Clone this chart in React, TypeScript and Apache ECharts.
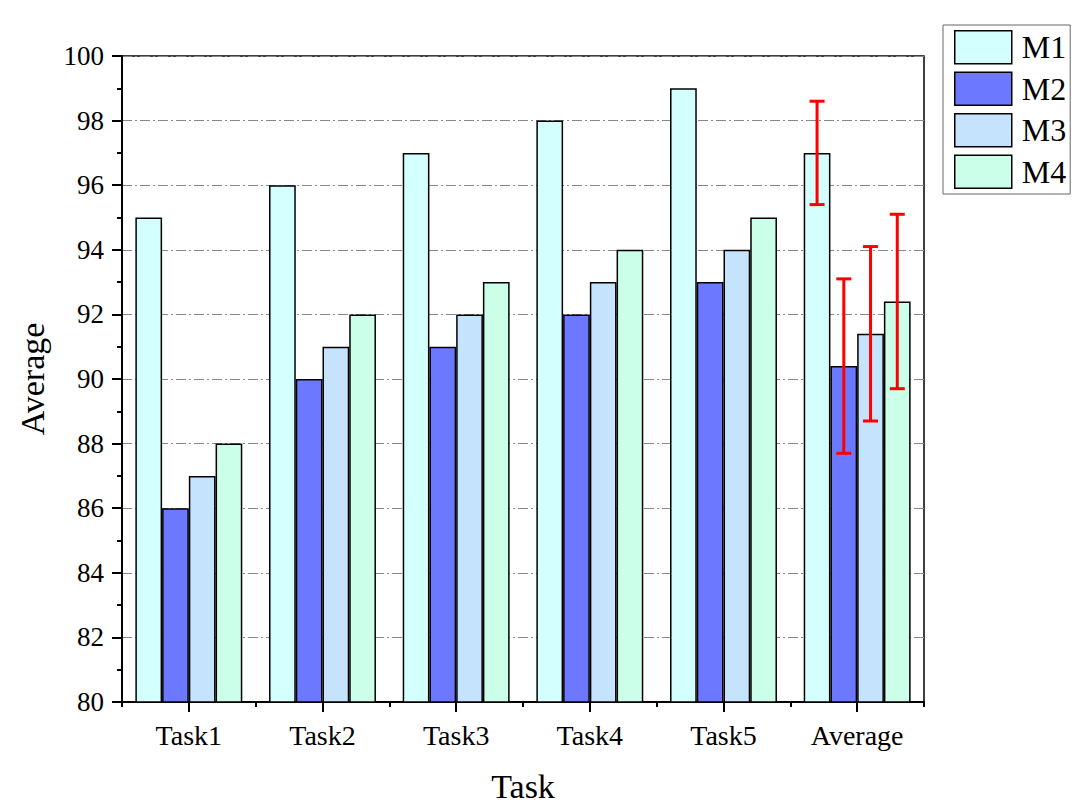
import React, { useEffect, useRef } from "react";
import * as echarts from "echarts";

const categories = ["Task1", "Task2", "Task3", "Task4", "Task5", "Average"];
const seriesNames = ["M1", "M2", "M3", "M4"];
const m1 = [95, 96, 97, 98, 99, 97];
const m2 = [86, 90, 91, 92, 93, 90.4];
const m3 = [87, 91, 92, 93, 94, 91.4];
const m4 = [88, 92, 93, 94, 95, 92.4];
const averageErrors = [1.6, 2.7, 2.7, 2.7];
const colors = ["#D4FFFF", "#6B78FF", "#C5E3FD", "#CBFFEA"];

const FONT = "'Liberation Serif', 'Times New Roman', serif";

export default function App() {
  const ref = useRef<HTMLDivElement>(null);
  useEffect(() => {
    const chart = echarts.init(ref.current!, null, { renderer: "svg" });
    const values = [m1, m2, m3, m4];
    const avgIndex = categories.length - 1;
    const errData = values.map((arr, i) => [
      avgIndex,
      arr[avgIndex] - averageErrors[i],
      arr[avgIndex] + averageErrors[i],
      i,
    ]);
    const option: any = {
      animation: false,
      backgroundColor: "#fff",
      textStyle: { fontFamily: FONT },
      grid: {
        left: 122,
        top: 56,
        right: 156,
        bottom: 101,
        outerBoundsMode: "none",
        containLabel: false,
        show: true,
        borderColor: "#000",
        borderWidth: 1.5,
        backgroundColor: "transparent",
      },
      legend: {
        orient: "vertical",
        left: 943,
        top: 25,
        itemWidth: 57,
        itemHeight: 33,
        itemGap: 7,
        icon: "rect",
        padding: [5, 4, 5, 11],
        borderColor: "#666",
        borderWidth: 1,
        data: seriesNames,
        textStyle: { fontFamily: FONT, fontSize: 32, color: "#000", padding: [0, 0, 0, 5] },
        itemStyle: { borderColor: "#000", borderWidth: 1.5 },
      },
      xAxis: [
        {
          type: "category",
          data: categories,
          name: "Task",
          nameLocation: "middle",
          nameGap: 67,
          nameTextStyle: { fontFamily: FONT, fontSize: 34, color: "#000" },
          axisLine: { show: true, lineStyle: { color: "#000", width: 2 } },
          axisTick: {
            show: true,
            alignWithLabel: true,
            length: 10,
            lineStyle: { color: "#000", width: 2 },
          },
          axisLabel: {
            margin: 19,
            fontFamily: FONT,
            fontSize: 28,
            color: "#000",
          },
          splitLine: { show: false },
        },
        {
          type: "category",
          data: categories,
          position: "bottom",
          axisLine: { show: false },
          axisTick: {
            show: true,
            length: 5,
            lineStyle: { color: "#000", width: 2 },
          },
          axisLabel: { show: false },
          splitLine: { show: false },
        },
      ],
      yAxis: {
        type: "value",
        min: 80,
        max: 100,
        interval: 2,
        name: "Average",
        nameLocation: "middle",
        nameGap: 73,
        nameTextStyle: { fontFamily: FONT, fontSize: 34, color: "#000" },
        axisLine: { show: true, lineStyle: { color: "#000", width: 2 } },
        axisTick: { show: true, length: 10, lineStyle: { color: "#000", width: 2 } },
        minorTick: {
          show: true,
          splitNumber: 2,
          length: 5,
          lineStyle: { color: "#000", width: 2 },
        },
        axisLabel: {
          margin: 18,
          fontFamily: FONT,
          fontSize: 27,
          color: "#000",
        },
        splitLine: {
          show: true,
          lineStyle: { color: "#888", width: 1, type: [10, 3, 2, 3] },
        },
      },
      series: [
        ...values.map((arr, i) => ({
          name: seriesNames[i],
          type: "bar",
          xAxisIndex: 0,
          data: arr,
          barGap: "0%",
          barCategoryGap: "20%",
          itemStyle: { color: colors[i], borderColor: "#000", borderWidth: 1.5 },
        })),
        {
          type: "custom",
          xAxisIndex: 0,
          z: 10,
          data: errData,
          renderItem: (params: any, api: any) => {
            const x = api.value(0);
            const low = api.value(1);
            const high = api.value(2);
            const si = api.value(3);
            const pHigh = api.coord([x, high]);
            const pLow = api.coord([x, low]);
            const band = api.size([1, 0])[0];
            const cx = pHigh[0] + (si - 1.5) * band * 0.2;
            const hw = 7.5;
            const style = { stroke: "#FF0000", lineWidth: 3 };
            return {
              type: "group",
              children: [
                { type: "line", shape: { x1: cx, y1: pHigh[1], x2: cx, y2: pLow[1] }, style },
                { type: "line", shape: { x1: cx - hw, y1: pHigh[1], x2: cx + hw, y2: pHigh[1] }, style },
                { type: "line", shape: { x1: cx - hw, y1: pLow[1], x2: cx + hw, y2: pLow[1] }, style },
              ],
            };
          },
        },
      ],
    };
    chart.setOption(option);
    return () => chart.dispose();
  }, []);
  return (
    <div
      ref={ref}
      style={{ position: "fixed", left: 0, top: 0, width: 1080, height: 803, background: "#fff" }}
    />
  );
}
